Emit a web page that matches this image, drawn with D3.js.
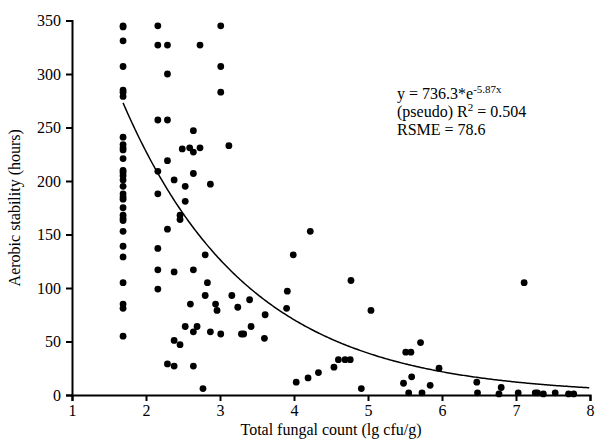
<!DOCTYPE html>
<html>
<head>
<meta charset="utf-8">
<script src="https://cdn.jsdelivr.net/npm/d3@7"></script>
<style>
  body { margin: 0; background: #fff; }
  svg text { font-family: "Liberation Serif", "Times New Roman", serif; fill: #000; }
</style>
</head>
<body>
<div class="chart"></div>
<script>
// scatter points: lg cfu/g vs hours
const fungalCount = [
  1.69, 1.69, 1.69, 1.69, 1.69, 1.69, 1.69, 1.69, 1.69, 1.69,
  1.69, 1.69, 1.69, 1.69, 1.69, 1.69, 1.69, 1.69, 1.69, 1.69,
  1.69, 1.69, 1.69, 1.69, 1.69, 1.69, 1.69, 1.69, 1.69, 1.69,
  1.69,
  2.16, 2.16, 2.29, 2.73, 3.01, 3.01, 3.01, 2.29, 2.16, 2.29,
  2.64, 2.49, 2.59, 2.64, 2.73, 3.12, 2.29, 2.16, 2.64, 2.38,
  2.53, 2.87, 2.16, 2.53, 2.46, 2.46, 2.29, 2.16, 2.80, 2.16,
  2.38, 2.64, 2.83, 2.16, 2.80, 3.16, 2.60, 2.94, 2.96, 3.24,
  3.40, 2.53, 2.69, 2.64, 2.87, 3.01, 3.29, 3.32, 3.42, 2.38,
  2.46, 2.29, 2.38, 2.64, 2.77,
  3.61, 3.60, 3.91, 3.90, 3.99, 4.22, 4.03, 4.19, 4.33, 4.54,
  4.60, 4.69, 4.76, 4.77, 4.91, 5.04, 5.48, 5.51, 5.58, 5.71,
  5.59, 5.55, 5.73, 5.84, 5.96,
  7.11, 6.47, 6.48, 6.80, 6.77, 7.03, 7.26, 7.29, 7.37, 7.53,
  7.71, 7.78
];
const stability = [
  345, 344, 331, 307, 285, 283, 279, 241, 234, 231,
  229, 221, 210, 208, 205, 201, 195, 188, 185, 183,
  175, 168, 165, 163, 153, 139, 129, 105, 85, 81,
  55,
  345, 327, 327, 327, 345, 307, 283, 300, 257, 257,
  247, 230, 231, 227, 231, 233, 219, 209, 207, 201,
  195, 197, 188, 181, 168, 164, 155, 137, 131, 117,
  115, 117, 105, 99, 93, 93, 85, 85, 79, 82,
  89, 64, 64, 59, 59, 57, 57, 57, 64, 51,
  47, 29, 27, 27, 6,
  75, 53, 97, 81, 131, 153, 12, 16, 21, 26,
  33, 33, 33, 107, 6, 79, 11, 40, 40, 49,
  17, 2, 2, 9, 25,
  105, 12, 2, 7, 1, 2, 2, 2, 1, 2,
  1, 1
];

const xTicks = [1, 2, 3, 4, 5, 6, 7, 8];
const yTicks = [0, 50, 100, 150, 200, 250, 300, 350];

// fitted model from the annotation: y = a * e^(-b x)
const fitA = 736.3;
const fitB = 0.587;
const fitRange = [1.69, 8];

const svgWidth = 600;
const svgHeight = 442;
const margin = { top: 20.5, right: 10, bottom: 47, left: 72 };
const width = svgWidth - margin.left - margin.right;
const height = svgHeight - margin.top - margin.bottom;

const svg = d3.select('.chart')
    .append('svg')
    .attr('width', svgWidth)
    .attr('height', svgHeight)
    .append('g')
    .attr('transform', `translate(${margin.left},${margin.top})`);

const x = d3.scaleLinear().domain([1, 8]).range([0, width]);
const y = d3.scaleLinear().domain([0, 350]).range([height, 0]);

// axes
const xAxis = svg.append('g')
    .attr('transform', `translate(0,${height})`)
    .call(d3.axisBottom(x).tickValues(xTicks).tickFormat(d3.format('d')).tickSize(6).tickPadding(4));

const yAxis = svg.append('g')
    .call(d3.axisLeft(y).tickValues(yTicks).tickFormat(d3.format('d')).tickSize(6).tickPadding(5));

[xAxis, yAxis].forEach(a => {
    a.select('.domain').attr('stroke', '#000').attr('stroke-width', 2);
    a.selectAll('.tick line').attr('stroke', '#000').attr('stroke-width', 2);
    a.selectAll('.tick text').style('font-size', '16px').style('font-family', '"Liberation Serif", serif');
});

// fitted curve
const curveX = d3.range(fitRange[0], fitRange[1] + 0.001, 0.02);
svg.append('path')
    .datum(curveX)
    .attr('fill', 'none')
    .attr('stroke', '#000')
    .attr('stroke-width', 1.5)
    .attr('d', d3.line()
        .x(d => x(d))
        .y(d => y(fitA * Math.exp(-fitB * d))));

// points
svg.selectAll('.dot')
    .data(fungalCount)
    .enter()
    .append('circle')
    .attr('class', 'dot')
    .attr('cx', d => x(d))
    .attr('cy', (d, i) => y(stability[i]))
    .attr('r', 3.4)
    .attr('fill', '#000');

// axis titles
svg.append('text')
    .attr('x', x(4.5))
    .attr('y', height + 40)
    .attr('text-anchor', 'middle')
    .style('font-size', '16px')
    .text('Total fungal count (lg cfu/g)');

svg.append('text')
    .attr('transform', `translate(-52,${y(175)}) rotate(-90)`)
    .attr('text-anchor', 'middle')
    .style('font-size', '16px')
    .text('Aerobic stability (hours)');

// annotation
const note = svg.append('text')
    .attr('x', 325)
    .attr('y', 78)
    .style('font-size', '16px');
note.append('tspan').text('y = 736.3*e');
note.append('tspan').attr('dy', -6).style('font-size', '11px').text('-5.87x');

const note2 = svg.append('text')
    .attr('x', 325)
    .attr('y', 96)
    .style('font-size', '16px');
note2.append('tspan').text('(pseudo) R');
note2.append('tspan').attr('dy', -6).style('font-size', '11px').text('2');
note2.append('tspan').attr('dy', 6).text(' = 0.504');

svg.append('text')
    .attr('x', 325)
    .attr('y', 114)
    .style('font-size', '16px')
    .text('RSME = 78.6');
</script>
</body>
</html>
